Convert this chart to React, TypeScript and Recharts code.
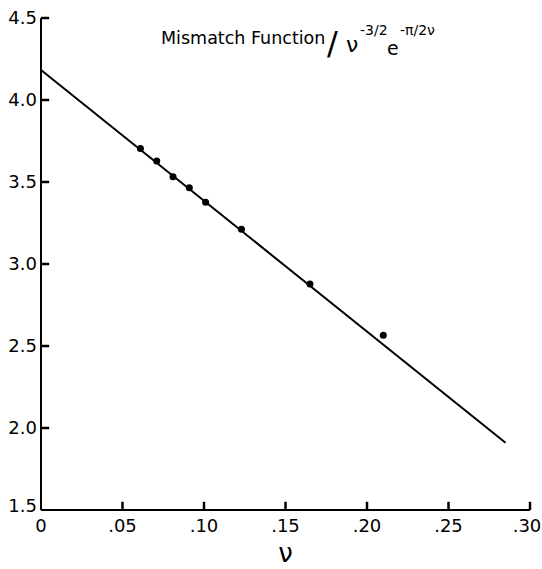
import { ComposedChart, Line, Scatter, XAxis, YAxis, ReferenceLine, Customized } from 'recharts';

const nuValues = [0.061, 0.071, 0.081, 0.091, 0.101, 0.123, 0.165, 0.21];
const mismatchValues = [3.705, 3.628, 3.532, 3.465, 3.376, 3.212, 2.878, 2.565];
const fitNu = [0, 0.285];
const fitValues = [4.183, 1.91];
const xTicks = [0, 0.05, 0.1, 0.15, 0.2, 0.25, 0.3];
const xTickLabels = ['0', '.05', '.10', '.15', '.20', '.25', '.30'];
const yTicks = [1.5, 2.0, 2.5, 3.0, 3.5, 4.0, 4.5];
const yTickLabels = ['1.5', '2.0', '2.5', '3.0', '3.5', '4.0', '4.5'];

const points = nuValues.map((v, i) => ({ v, m: mismatchValues[i] }));
const fit = fitNu.map((v, i) => ({ v, fit: fitValues[i] }));

const font = 'DejaVu Sans, sans-serif';
const X_MIN = 0;
const Y_MIN = 1.5;
// inward tick marks (~8px), in each axis' units
const X_TICK_LEN = 0.005;
const Y_TICK_LEN = 0.05;

const XTick = (props: any) => {
  const { x, y, payload } = props;
  const i = xTicks.indexOf(payload.value);
  const last = i === xTicks.length - 1;
  return (
    <text x={last ? x - 3 : x} y={y + 22} textAnchor="middle" fontSize={18} fontFamily={font} fill="#000">
      {xTickLabels[i]}
    </text>
  );
};

const YTick = (props: any) => {
  const { x, y, payload } = props;
  const i = yTicks.indexOf(payload.value);
  return (
    <text x={x - 4} y={i === 0 ? y + 2 : y + 6} textAnchor="end" fontSize={18} fontFamily={font} fill="#000">
      {yTickLabels[i]}
    </text>
  );
};

const Title = () => (
  <g fontFamily={font} fill="#000">
    <text x={161} y={44} fontSize={17.5}>Mismatch Function</text>
    <text x={327} y={54} fontSize={32}>/</text>
    <text x={346} y={52} fontSize={22}>ν</text>
    <text x={360} y={35} fontSize={14}>-3/2</text>
    <text x={387} y={55} fontSize={19}>e</text>
    <text x={400} y={35} fontSize={14}>-π/2ν</text>
  </g>
);

export default function App() {
  return (
    <div style={{ position: 'absolute', left: 0, top: 0, background: '#fff' }}>
      <ComposedChart width={542} height={569} margin={{ top: 18, right: 12, left: 0, bottom: 0 }}>
        <XAxis
          dataKey="v"
          type="number"
          domain={[0, 0.3]}
          ticks={xTicks}
          allowDataOverflow
          stroke="#000"
          strokeWidth={2}
          height={59}
          tickSize={0}
          tickMargin={0}
          tickLine={false}
          tick={<XTick />}
          label={{ value: 'ν', position: 'insideBottom', offset: 7, fontSize: 26, fill: '#000', fontFamily: font }}
        />
        <YAxis
          type="number"
          domain={[1.5, 4.5]}
          ticks={yTicks}
          allowDataOverflow
          stroke="#000"
          strokeWidth={2}
          width={41}
          tickSize={0}
          tickMargin={0}
          tickLine={false}
          tick={<YTick />}
        />
        {xTicks.slice(1).map((t) => (
          <ReferenceLine
            key={'xt' + t}
            segment={[{ x: t, y: Y_MIN }, { x: t, y: Y_MIN + Y_TICK_LEN }]}
            stroke="#000"
            strokeWidth={2.5}
            ifOverflow="visible"
          />
        ))}
        {yTicks.slice(1).map((t) => (
          <ReferenceLine
            key={'yt' + t}
            segment={[{ x: X_MIN, y: t }, { x: X_MIN + X_TICK_LEN, y: t }]}
            stroke="#000"
            strokeWidth={2.5}
            ifOverflow="visible"
          />
        ))}
        <Line data={fit} dataKey="fit" stroke="#000" strokeWidth={2} dot={false} isAnimationActive={false} />
        <Scatter data={points} dataKey="m" fill="#000" shape={(p: any) => <circle cx={p.cx} cy={p.cy} r={3.5} fill="#000" />} isAnimationActive={false} />
        <Customized component={Title} />
      </ComposedChart>
    </div>
  );
}
